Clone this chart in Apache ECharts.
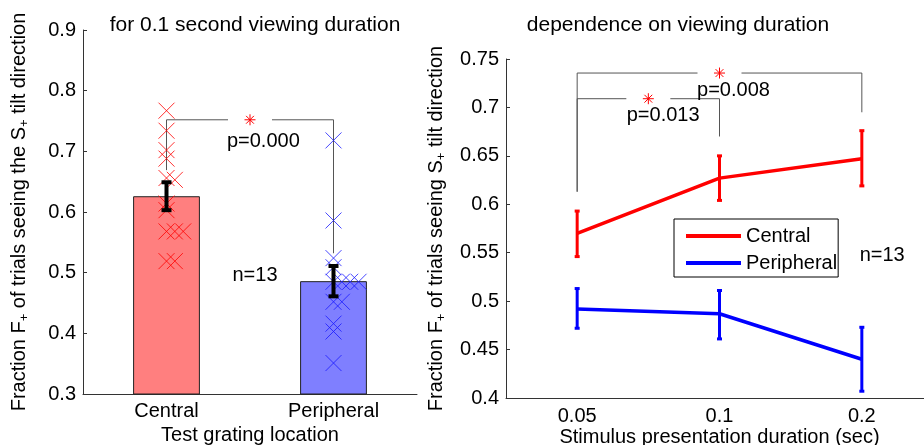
<!DOCTYPE html>
<html>
<head>
<meta charset="utf-8">
<script src="https://cdn.jsdelivr.net/npm/echarts@6/dist/echarts.min.js"></script>
<style>
html, body { margin: 0; padding: 0; background: #fff; }
#main { width: 924px; height: 445px; }
</style>
</head>
<body>
<div id="main"></div>
<script>
// left panel: 0.1 s viewing duration
var locations = ['Central', 'Peripheral'];
var barMeans = [0.626, 0.486];
var barLow = [0.603, 0.461];
var barHigh = [0.649, 0.511];
var centralSubj = [0.767, 0.734, 0.702, 0.688, 0.656, 0.653, 0.614, 0.603, 0.568, 0.568, 0.568, 0.519, 0.519];
var centralSlot = [0, 0, 0, 0, 0, 1, 0, 0, 0, 1, 2, 0, 1];
var periphSubj = [0.718, 0.586, 0.524, 0.509, 0.485, 0.485, 0.485, 0.485, 0.452, 0.452, 0.416, 0.403, 0.351];
var periphSlot = [0, 0, 0, 0, 0, 1, 2, 3, 0, 1, 0, 0, 0];

// right panel: dependence on duration
var durations = ['0.05', '0.1', '0.2'];
var centralMean = [0.570, 0.627, 0.647];
var centralLow = [0.546, 0.604, 0.619];
var centralHigh = [0.593, 0.650, 0.676];
var periphMean = [0.492, 0.487, 0.440];
var periphLow = [0.472, 0.461, 0.407];
var periphHigh = [0.513, 0.511, 0.473];

// significance brackets: [from, to, top, left end, right end]
var leftBrackets = [[0, 1, 0.752, 0.669, 0.532]];
var rightBrackets = [[0, 2, 0.7355, 0.613, 0.695], [0, 1, 0.709, 0.613, 0.670]];
var leftNotes = ['p=0.000', 'n=13'];
var leftNotePos = [[0.58, 0.717], [0.53, 0.495]];
var rightNotes = ['p=0.008', 'p=0.013', 'n=13'];
var rightNotePos = [[1.098, 0.718], [0.604, 0.692], [2.143, 0.547]];

var FONT = 'Liberation Sans';
var FS = 20;
var JIT = 0.05;

var myChart = echarts.init(document.getElementById('main'));

function errBars(capHalf, width, color) {
    return function (params, api) {
        var x = api.value(0);
        var lo = api.coord([x, api.value(1)]);
        var hi = api.coord([x, api.value(2)]);
        var st = { stroke: color, lineWidth: width };
        return {
            type: 'group',
            children: [
                { type: 'line', shape: { x1: lo[0], y1: lo[1], x2: hi[0], y2: hi[1] }, style: st },
                { type: 'line', shape: { x1: lo[0] - capHalf, y1: lo[1], x2: lo[0] + capHalf, y2: lo[1] }, style: st },
                { type: 'line', shape: { x1: hi[0] - capHalf, y1: hi[1], x2: hi[0] + capHalf, y2: hi[1] }, style: st }
            ]
        };
    };
}

function bracket(params, api) {
    var pL = api.coord([api.value(0), api.value(2)]);
    var pR = api.coord([api.value(1), api.value(2)]);
    var pLe = api.coord([api.value(0), api.value(3)]);
    var pRe = api.coord([api.value(1), api.value(4)]);
    var mid = (pL[0] + pR[0]) / 2;
    var y = pL[1];
    var gap = 22, r = 5.5, d = 3.9;
    var ln = { stroke: '#555', lineWidth: 1, fill: null };
    var star = { stroke: '#ff0000', lineWidth: 1 };
    return {
        type: 'group',
        children: [
            { type: 'polyline', shape: { points: [pLe, pL, [mid - gap, y]] }, style: ln },
            { type: 'polyline', shape: { points: [[mid + gap, y], pR, pRe] }, style: ln },
            { type: 'line', shape: { x1: mid - r, y1: y, x2: mid + r, y2: y }, style: star },
            { type: 'line', shape: { x1: mid, y1: y - r, x2: mid, y2: y + r }, style: star },
            { type: 'line', shape: { x1: mid - d, y1: y - d, x2: mid + d, y2: y + d }, style: star },
            { type: 'line', shape: { x1: mid - d, y1: y + d, x2: mid + d, y2: y - d }, style: star }
        ]
    };
}

function notes(names) {
    return function (params, api) {
        var p = api.coord([api.value(0), api.value(1)]);
        return {
            type: 'text', x: p[0], y: p[1],
            style: { text: names[params.dataIndex], fill: '#000', fontSize: FS, fontFamily: FONT, align: 'center', verticalAlign: 'middle' }
        };
    };
}

var crossSymbol = 'path://M0,0L10,10M10,0L0,10';

var axisLine = { onZero: false, lineStyle: { color: '#333', width: 1 } };
var axisTick = { inside: true, length: 4, alignWithLabel: true, lineStyle: { color: '#333' } };
var label = { color: '#000', fontSize: FS, fontFamily: FONT };
var nameStyle = {
    color: '#000', fontSize: FS, fontFamily: FONT,
    rich: { s: { fontSize: 13, fontFamily: FONT, color: '#000', verticalAlign: 'bottom', padding: [11, 0, 0, 0] } }
};

var option = {
    animation: false,
    backgroundColor: '#fff',
    textStyle: { fontFamily: FONT },
    title: [
        { text: 'for 0.1 second viewing duration', left: 255, top: 15, textAlign: 'center', padding: 0,
          textStyle: { color: '#000', fontSize: 21, fontWeight: 'normal', fontFamily: FONT } },
        { text: 'dependence on viewing duration', left: 678, top: 15, textAlign: 'center', padding: 0,
          textStyle: { color: '#000', fontSize: 21, fontWeight: 'normal', fontFamily: FONT } }
    ],
    legend: {
        data: ['Central', 'Peripheral'],
        orient: 'vertical',
        left: 674, top: 219,
        icon: 'rect', itemWidth: 55, itemHeight: 4, itemGap: 7,
        padding: [7, 1, 4, 12],
        borderColor: '#000', borderWidth: 1, borderRadius: 0,
        backgroundColor: '#fff',
        selectedMode: false,
        textStyle: { color: '#000', fontSize: FS, fontFamily: FONT }
    },
    grid: [
        { left: 83, top: 30, width: 334, height: 364, outerBoundsMode: 'none', containLabel: false },
        { left: 506, top: 59, width: 427, height: 339, outerBoundsMode: 'none', containLabel: false }
    ],
    xAxis: [
        { type: 'category', gridIndex: 0, data: locations, boundaryGap: true,
          axisLine: axisLine, axisTick: axisTick, axisLabel: Object.assign({ margin: 7 }, label),
          name: 'Test grating location', nameLocation: 'middle', nameGap: 31, nameMoveOverlap: false, nameTextStyle: nameStyle },
        { type: 'value', gridIndex: 0, min: -0.5, max: 1.5, show: false, axisLine: { onZero: false } },
        { type: 'category', gridIndex: 1, data: durations, boundaryGap: true,
          axisLine: axisLine, axisTick: axisTick, axisLabel: Object.assign({ margin: 8 }, label),
          name: 'Stimulus presentation duration (sec)', nameLocation: 'middle', nameGap: 29, nameMoveOverlap: false, nameTextStyle: nameStyle },
        { type: 'value', gridIndex: 1, min: -0.5, max: 2.5, show: false, axisLine: { onZero: false } }
    ],
    yAxis: [
        { type: 'value', gridIndex: 0, min: 0.3, max: 0.9, interval: 0.1,
          axisLine: { show: true, onZero: false, lineStyle: { color: '#333' } }, axisTick: { show: true, inside: true, length: 4, lineStyle: { color: '#333' } },
          splitLine: { show: false }, axisLabel: Object.assign({ margin: 7 }, label),
          name: 'Fraction F{s|+} of trials seeing the S{s|+} tilt direction',
          nameLocation: 'middle', nameRotate: 90, nameGap: 52, nameMoveOverlap: false, nameTextStyle: nameStyle },
        { type: 'value', gridIndex: 1, min: 0.4, max: 0.75, interval: 0.05,
          axisLine: { show: true, onZero: false, lineStyle: { color: '#333' } }, axisTick: { show: true, inside: true, length: 4, lineStyle: { color: '#333' } },
          splitLine: { show: false }, axisLabel: Object.assign({ margin: 7 }, label),
          name: 'Fraction F{s|+} of trials seeing S{s|+} tilt direction',
          nameLocation: 'middle', nameRotate: 90, nameGap: 58, nameMoveOverlap: false, nameTextStyle: nameStyle }
    ],
    series: [
        {
            name: 'location mean', type: 'bar', xAxisIndex: 0, yAxisIndex: 0,
            barWidth: '40%',
            data: [
                { value: barMeans[0], itemStyle: { color: '#ff7f7f' } },
                { value: barMeans[1], itemStyle: { color: '#7f7fff' } }
            ],
            itemStyle: { borderColor: '#222', borderWidth: 1 }
        },
        {
            name: 'left brackets', type: 'custom', xAxisIndex: 1, yAxisIndex: 0,
            renderItem: bracket, data: leftBrackets, z: 2
        },
        {
            name: 'central subjects', type: 'scatter', xAxisIndex: 1, yAxisIndex: 0,
            symbol: crossSymbol, symbolSize: 16, z: 3,
            itemStyle: { color: 'none', borderColor: '#ff0000', borderWidth: 1 },
            data: centralSubj.map(function (v, i) { return [centralSlot[i] * JIT, v]; })
        },
        {
            name: 'peripheral subjects', type: 'scatter', xAxisIndex: 1, yAxisIndex: 0,
            symbol: crossSymbol, symbolSize: 16, z: 3,
            itemStyle: { color: 'none', borderColor: '#1a1aff', borderWidth: 1 },
            data: periphSubj.map(function (v, i) { return [1 + periphSlot[i] * JIT, v]; })
        },
        {
            name: 'location sem', type: 'custom', xAxisIndex: 0, yAxisIndex: 0,
            renderItem: errBars(5, 4, '#000'),
            data: [[0, barLow[0], barHigh[0]], [1, barLow[1], barHigh[1]]],
            z: 5
        },
        {
            name: 'left notes', type: 'custom', xAxisIndex: 1, yAxisIndex: 0,
            renderItem: notes(leftNotes), data: leftNotePos, z: 7
        },
        {
            name: 'Central', type: 'line', xAxisIndex: 2, yAxisIndex: 1,
            data: centralMean, symbol: 'none', color: '#ff0000',
            lineStyle: { color: '#ff0000', width: 3.5 }
        },
        {
            name: 'Peripheral', type: 'line', xAxisIndex: 2, yAxisIndex: 1,
            data: periphMean, symbol: 'none', color: '#0000ff',
            lineStyle: { color: '#0000ff', width: 3.5 }
        },
        {
            name: 'central sem', type: 'custom', xAxisIndex: 2, yAxisIndex: 1,
            renderItem: errBars(2.5, 3, '#ff0000'),
            data: centralMean.map(function (v, i) { return [i, centralLow[i], centralHigh[i]]; })
        },
        {
            name: 'peripheral sem', type: 'custom', xAxisIndex: 2, yAxisIndex: 1,
            renderItem: errBars(2.5, 3, '#0000ff'),
            data: periphMean.map(function (v, i) { return [i, periphLow[i], periphHigh[i]]; })
        },
        {
            name: 'right brackets', type: 'custom', xAxisIndex: 3, yAxisIndex: 1,
            renderItem: bracket, data: rightBrackets, z: 6
        },
        {
            name: 'right notes', type: 'custom', xAxisIndex: 3, yAxisIndex: 1,
            renderItem: notes(rightNotes), data: rightNotePos, z: 7
        }
    ]
};

myChart.setOption(option);
</script>
</body>
</html>
